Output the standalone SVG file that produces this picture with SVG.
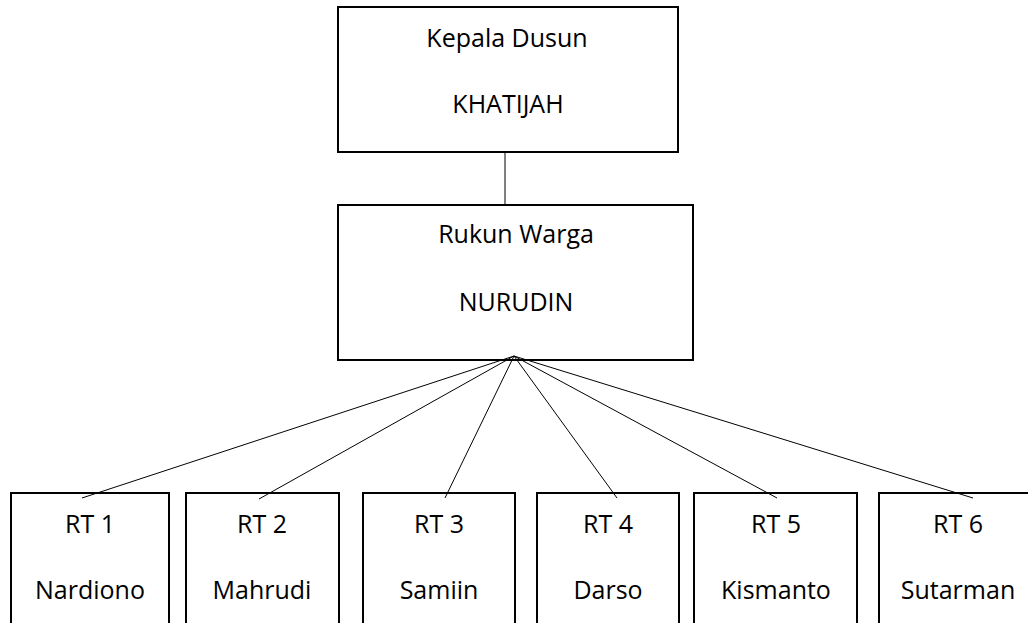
<svg xmlns="http://www.w3.org/2000/svg" width="1028" height="623" viewBox="0 0 1028 623">
<style>
.box{fill:none;stroke:#000;stroke-width:2}
.lbl{font-family:"Open Sans","Noto Sans",sans-serif;font-size:25px;fill:#000;text-anchor:middle}
.con{stroke:#000;stroke-width:1;fill:none}
</style>
<rect width="1028" height="623" fill="#fff"/>
<g id="connectors">
<line class="con" x1="505" y1="152" x2="505" y2="205"/>
<line class="con" x1="514" y1="356" x2="82" y2="498"/>
<line class="con" x1="514" y1="356" x2="259" y2="499"/>
<line class="con" x1="514" y1="356" x2="445" y2="498"/>
<line class="con" x1="514" y1="356" x2="617" y2="498"/>
<line class="con" x1="514" y1="356" x2="777" y2="498"/>
<line class="con" x1="514" y1="356" x2="973" y2="498"/>
</g>
<g id="kepala-dusun">
<rect class="box" x="338" y="7" width="340" height="145"/>
<text class="lbl" x="507" y="47">Kepala Dusun</text>
<text class="lbl" x="508" y="113">KHATIJAH</text>
</g>
<g id="rukun-warga">
<rect class="box" x="338" y="205" width="355" height="155"/>
<text class="lbl" x="516" y="243">Rukun Warga</text>
<text class="lbl" x="516" y="311">NURUDIN</text>
</g>
<g id="rt1">
<rect class="box" x="11" y="493" width="158" height="150"/>
<text class="lbl" x="90" y="533">RT 1</text>
<text class="lbl" x="90" y="599">Nardiono</text>
</g>
<g id="rt2">
<rect class="box" x="186" y="493" width="153" height="150"/>
<text class="lbl" x="262" y="533">RT 2</text>
<text class="lbl" x="262" y="599">Mahrudi</text>
</g>
<g id="rt3">
<rect class="box" x="363" y="493" width="152" height="150"/>
<text class="lbl" x="439" y="533">RT 3</text>
<text class="lbl" x="439" y="599">Samiin</text>
</g>
<g id="rt4">
<rect class="box" x="537" y="493" width="142" height="150"/>
<text class="lbl" x="608" y="533">RT 4</text>
<text class="lbl" x="608" y="599">Darso</text>
</g>
<g id="rt5">
<rect class="box" x="694" y="493" width="163" height="150"/>
<text class="lbl" x="776" y="533">RT 5</text>
<text class="lbl" x="776" y="599">Kismanto</text>
</g>
<g id="rt6">
<rect class="box" x="879" y="493" width="158" height="150"/>
<text class="lbl" x="958" y="533">RT 6</text>
<text class="lbl" x="958" y="599">Sutarman</text>
</g>
</svg>
